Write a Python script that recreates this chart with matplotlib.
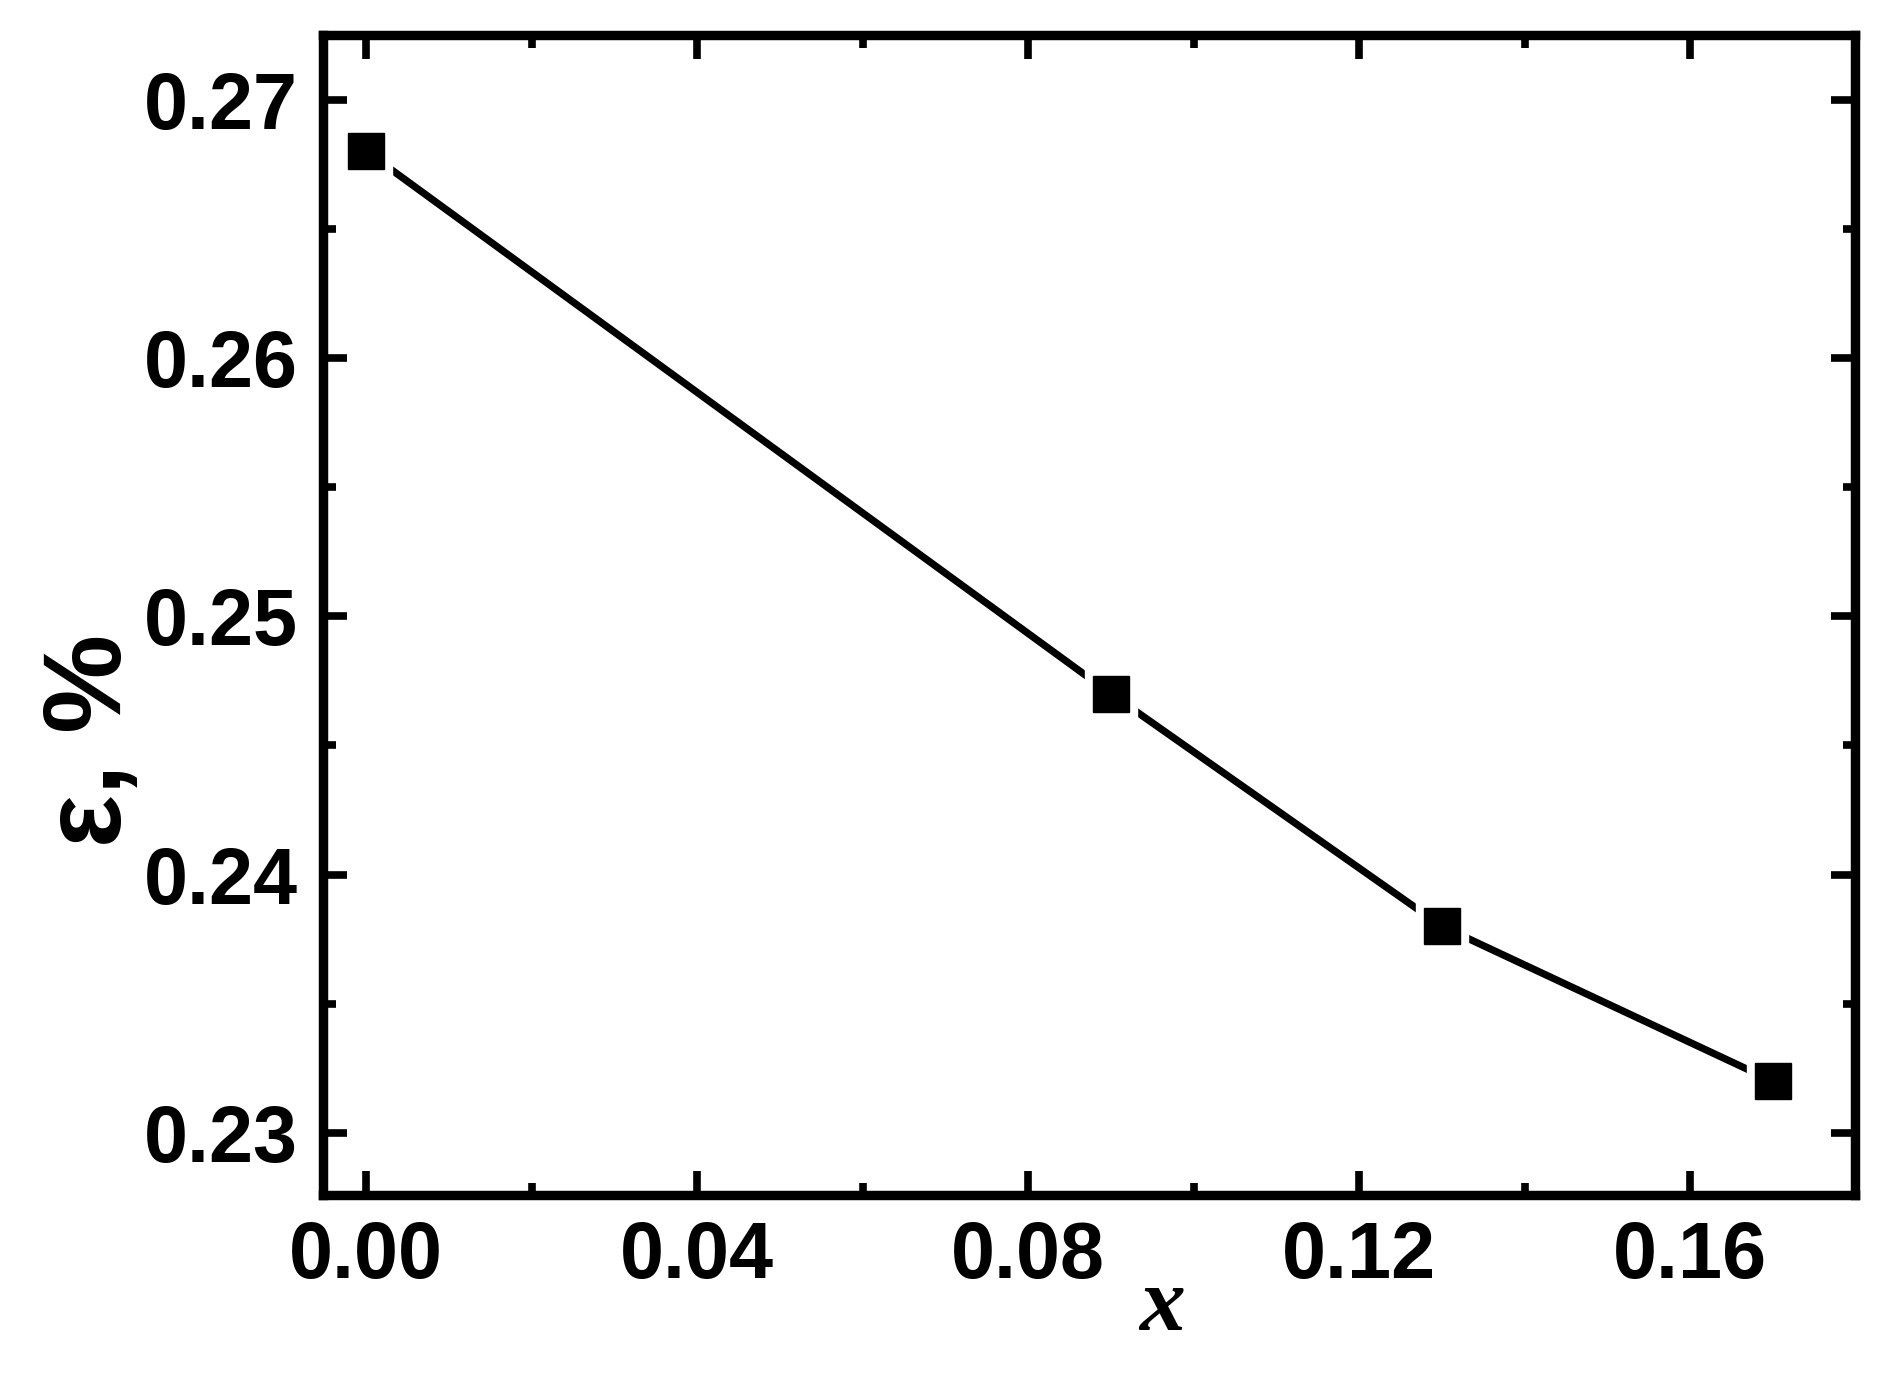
import matplotlib.pyplot as plt
from matplotlib.ticker import MultipleLocator

# composition x vs strain epsilon (%)
x_vals = [0.00, 0.09, 0.13, 0.17]
eps_vals = [0.268, 0.247, 0.238, 0.232]

x_ticks = [0.00, 0.04, 0.08, 0.12, 0.16]
y_ticks = [0.23, 0.24, 0.25, 0.26, 0.27]

plt.rcParams['font.family'] = ['Liberation Sans', 'DejaVu Sans']

fig = plt.figure(figsize=(18.9, 13.81), dpi=100)
ax = fig.add_axes([0.1709, 0.1347, 0.8106, 0.840])

# line, then a white halo so the line stops short of each marker, then the markers
ax.plot(x_vals, eps_vals, color='black', lw=5.2, zorder=2)
ax.plot(x_vals, eps_vals, ls='none', marker='s', ms=37, mfc='white', mec='white', zorder=3)
ax.plot(x_vals, eps_vals, ls='none', marker='s', ms=26, mfc='black', mec='black', zorder=4)

ax.set_xlim(-0.0052, 0.1799)
ax.set_ylim(0.2276, 0.2725)
ax.set_xticks(x_ticks)
ax.set_yticks(y_ticks)
ax.set_xticklabels([f"{v:.2f}" for v in x_ticks])
ax.set_yticklabels([f"{v:.2f}" for v in y_ticks])
ax.xaxis.set_minor_locator(MultipleLocator(0.02))
ax.yaxis.set_minor_locator(MultipleLocator(0.005))

for s in ax.spines.values():
    s.set_linewidth(6.8)

ax.tick_params(which='both', direction='in', top=True, right=True, width=5.5)
ax.tick_params(which='major', length=17, pad=18, labelsize=57)
ax.tick_params(which='minor', length=9)
for lab in ax.get_xticklabels() + ax.get_yticklabels():
    lab.set_fontweight('bold')

ax.set_xlabel("x", fontsize=66, fontweight='bold', fontstyle='italic', family='Liberation Serif')
ax.xaxis.set_label_coords(0.548, -0.062)
ax.set_ylabel("ε, %", fontsize=80, fontweight='bold')
ax.yaxis.set_label_coords(-0.117, 0.392)

fig.savefig("out.png", dpi=100)
